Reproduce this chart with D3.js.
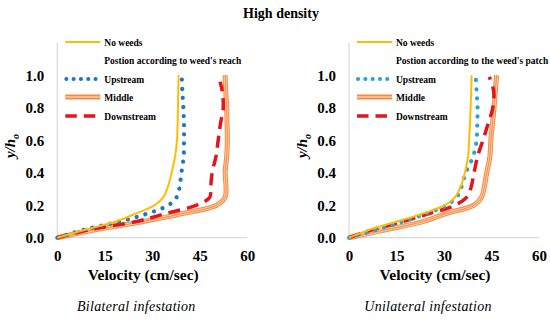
<!DOCTYPE html>
<html><head><meta charset="utf-8">
<script src="https://cdn.jsdelivr.net/npm/d3@7"></script>
<style>body{margin:0;background:#fff}svg{display:block}</style>
</head><body><svg id="c" width="550" height="321" font-family="Liberation Serif"></svg>
<script>
const depth = [0, 0.05, 0.1, 0.15, 0.2, 0.25, 0.3, 0.4, 0.5, 0.6, 0.7, 0.8, 0.9, 1.0];
const depthDownL = [0, 0.05, 0.1, 0.15, 0.2, 0.25, 0.3, 0.4, 0.5, 0.6, 0.7, 0.8, 0.9, 0.96];
const depthDownR = [0, 0.05, 0.1, 0.15, 0.2, 0.25, 0.3, 0.4, 0.5, 0.6, 0.7, 0.8, 0.9, 0.99];
// Bilateral infestation (cm/sec)
const noWeedsL    = [0, 9.0, 18.5, 25.0, 30.8, 33.5, 34.7, 36.1, 37.2, 37.8, 38.0, 38.1, 38.2, 38.3];
const upstreamL   = [0, 8.6, 19.8, 28.7, 35.1, 37.7, 38.5, 39.2, 39.9, 40.0, 40.0, 39.8, 39.5, 39.3];
const middleL     = [0, 12.4, 27.2, 39.8, 50.3, 53.0, 53.3, 53.0, 53.5, 53.7, 53.6, 53.5, 53.2, 53.0];
const downstreamL = [0, 10.3, 25.0, 34.5, 44.0, 48.2, 48.4, 48.9, 50.1, 50.8, 51.5, 52.4, 52.1, 51.4];
// Unilateral infestation (cm/sec)
const noWeedsR    = [0, 6.6, 15.1, 23.5, 30.3, 33.5, 35.0, 36.6, 37.6, 37.9, 38.2, 38.4, 38.6, 38.7];
const upstreamR   = [0, 8.7, 17.2, 24.5, 30.8, 34.0, 35.3, 36.9, 39.2, 40.3, 40.5, 40.6, 40.3, 40.0];
const middleR     = [0, 11.9, 23.5, 30.8, 39.5, 41.9, 42.6, 43.5, 44.5, 44.8, 45.3, 45.8, 46.2, 46.6];
const downstreamR = [0, 7.6, 17.1, 25.6, 33.5, 37.2, 38.4, 39.5, 40.6, 42.3, 43.9, 45.4, 45.7, 44.3];

const xTicks = [0, 15, 30, 45, 60];
const yTicks = [0, 0.2, 0.4, 0.6, 0.8, 1.0];
const legendLabels = ["No weeds", "Upstream", "Middle", "Downstream"];
const legendHeaders = ["Postion according to weed's reach", "Postion according to the weed's patch"];
const subtitles = ["Bilateral infestation", "Unilateral infestation"];
const title = "High density";

const FONT = "Liberation Serif";
const svg = d3.select("#c");
svg.append("text").attr("x", 281).attr("y", 18).attr("text-anchor", "middle").attr("font-family", FONT)
  .attr("font-size", 14).attr("font-weight", "bold").text(title);

const panels = [
  {x0: 57.3, series: [noWeedsL, upstreamL, middleL, downstreamL], dd: depthDownL, blue: "#1E76CC", header: legendHeaders[0], sub: subtitles[0]},
  {x0: 349, series: [noWeedsR, upstreamR, middleR, downstreamR], dd: depthDownR, blue: "#27A2E0", header: legendHeaders[1], sub: subtitles[1]}
];

panels.forEach(p => {
  const x = d3.scaleLinear().domain([0, 60]).range([p.x0, p.x0 + 190]);
  const y = d3.scaleLinear().domain([0, 1.2]).range([237.7, 42.7]);
  const g = svg.append("g");
  g.append("line").attr("x1", x(0)).attr("x2", x(60)).attr("y1", y(0)).attr("y2", y(0)).attr("stroke", "#D9D9D9").attr("stroke-width", 1.2);
  g.append("line").attr("x1", x(0)).attr("x2", x(0)).attr("y1", y(0)).attr("y2", y(1.2)).attr("stroke", "#D9D9D9").attr("stroke-width", 1.2);
  const xa = g.append("g").attr("transform", `translate(0,${y(0)})`)
    .call(d3.axisBottom(x).tickValues(xTicks).tickSize(0).tickPadding(13).tickFormat(d3.format("d")));
  xa.attr("font-family", FONT);
  xa.select(".domain").remove();
  xa.selectAll("text").attr("font-size", 15).attr("font-weight", "bold").attr("fill", "#000");
  const ya = g.append("g").attr("transform", `translate(${x(0)},0)`)
    .call(d3.axisLeft(y).tickValues(yTicks).tickSize(0).tickPadding(13).tickFormat(d3.format(".1f")));
  ya.attr("font-family", FONT);
  ya.select(".domain").remove();
  ya.selectAll("text").attr("font-size", 15).attr("font-weight", "bold").attr("fill", "#000");

  g.append("text").attr("x", x(0) + 86).attr("y", 280).attr("text-anchor", "middle").attr("font-family", FONT)
    .attr("font-size", 15.5).attr("font-weight", "bold").text("Velocity (cm/sec)");
  const yt = g.append("text").attr("transform", `translate(${x(0) - 42},146) rotate(-90)`).attr("text-anchor", "middle")
    .attr("font-family", FONT).attr("font-size", 15).attr("font-weight", "bold").attr("font-style", "italic");
  yt.append("tspan").text("y/h");
  yt.append("tspan").attr("font-size", 10).attr("dy", 4).text("o");
  g.append("text").attr("x", x(0) + 79).attr("y", 311).attr("text-anchor", "middle").attr("font-family", FONT)
    .attr("font-size", 14).attr("font-style", "italic").attr("letter-spacing", 0.3).text(p.sub);

  const line = d3.line().x(d => x(d[0])).y(d => y(d[1])).curve(d3.curveCatmullRom.alpha(0.5));
  const [nw, up, mid, dn] = p.series;
  const midPts = mid.map((v, i) => [v, depth[i]]);
  g.append("path").attr("d", line(midPts)).attr("fill", "none").attr("stroke", "#F58A42").attr("stroke-width", 5);
  g.append("path").attr("d", line(midPts)).attr("fill", "none").attr("stroke", "#FCCBA8").attr("stroke-width", 3);
  g.append("path").attr("d", line(midPts)).attr("fill", "none").attr("stroke", "#F58A42").attr("stroke-width", 1);
  g.append("path").attr("d", line(dn.map((v, i) => [v, p.dd[i]]))).attr("fill", "none")
    .attr("stroke", "#E3141B").attr("stroke-width", 3.5).attr("stroke-dasharray", "12 7");
  g.append("path").attr("d", line(up.map((v, i) => [v, depth[i]]))).attr("fill", "none")
    .attr("stroke", p.blue).attr("stroke-width", 4.2).attr("stroke-linecap", "round").attr("stroke-dasharray", "0.1 9");
  g.append("path").attr("d", line(nw.map((v, i) => [v, depth[i]]))).attr("fill", "none")
    .attr("stroke", "#FFBD00").attr("stroke-width", 2);

  const lx = p.x0 + 8, tx = p.x0 + 47;
  const rows = [42, 79, 97, 116];
  const lg = svg.append("g").attr("font-family", FONT);
  lg.append("line").attr("x1", lx).attr("x2", lx + 35).attr("y1", rows[0]).attr("y2", rows[0]).attr("stroke", "#FFBD00").attr("stroke-width", 2);
  lg.append("line").attr("x1", lx + 1).attr("x2", lx + 35).attr("y1", rows[1]).attr("y2", rows[1]).attr("stroke", p.blue)
    .attr("stroke-width", 4).attr("stroke-linecap", "round").attr("stroke-dasharray", "0.1 7.2");
  lg.append("line").attr("x1", lx).attr("x2", lx + 35).attr("y1", rows[2]).attr("y2", rows[2]).attr("stroke", "#F58A42").attr("stroke-width", 5);
  lg.append("line").attr("x1", lx).attr("x2", lx + 35).attr("y1", rows[2]).attr("y2", rows[2]).attr("stroke", "#FCCBA8").attr("stroke-width", 1.5);
  lg.append("line").attr("x1", lx).attr("x2", lx + 35).attr("y1", rows[3]).attr("y2", rows[3]).attr("stroke", "#E3141B")
    .attr("stroke-width", 3.5).attr("stroke-dasharray", "11.5 7");
  legendLabels.forEach((t, i) => {
    lg.append("text").attr("x", tx).attr("y", rows[i] + 3.5).attr("font-size", 9.5).attr("font-weight", "bold").text(t);
  });
  lg.append("text").attr("x", tx).attr("y", 63.5).attr("font-size", 9.5).attr("font-weight", "bold").text(p.header);
});
</script></body></html>
